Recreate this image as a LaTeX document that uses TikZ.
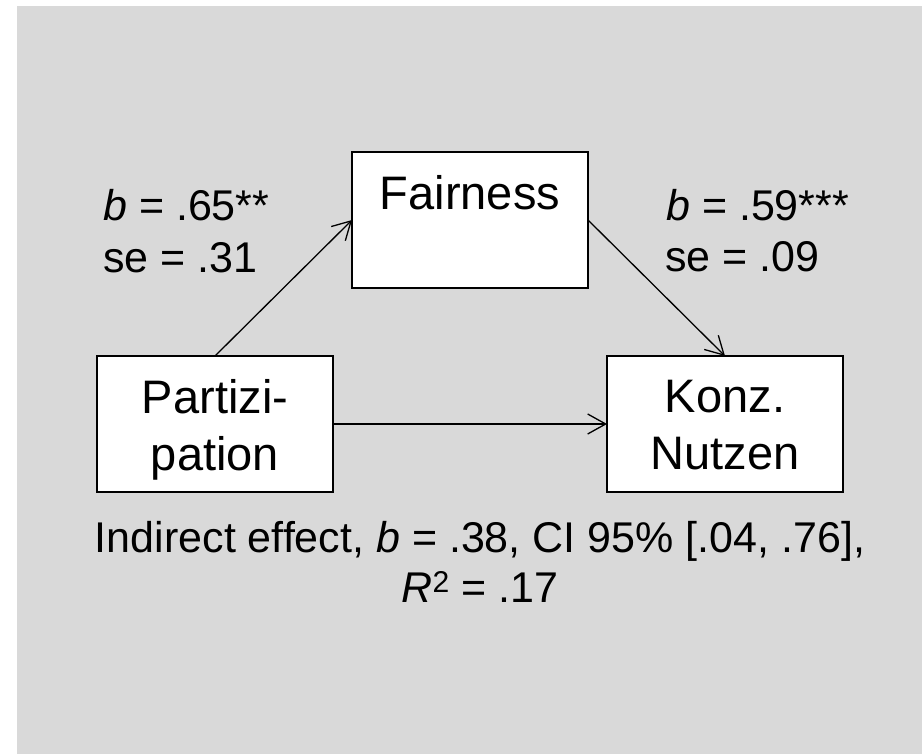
\documentclass[tikz,border=0pt]{standalone}
\usepackage{fontspec}
\setmainfont{Liberation Sans}[Ligatures=NoCommon]
\usetikzlibrary{arrows.meta}
\definecolor{bggray}{HTML}{D9D9D9}
\begin{document}
\begin{tikzpicture}[x=1pt,y=-1pt,
  box/.style={draw=black, line width=1.8pt, fill=white, minimum width=236pt, minimum height=136pt, inner sep=0pt, outer sep=0pt},
  boxtext/.style={inner sep=0pt, font=\fontsize{47}{57}\selectfont, anchor=base},
  lbl/.style={inner sep=0pt, font=\fontsize{43}{52}\selectfont, anchor=base west},
  note/.style={inner sep=0pt, font=\fontsize{43}{50}\selectfont, anchor=base},
  arr/.style={line width=1.3pt, -{Straight Barb[length=18pt,width=20pt]}}
]
\useasboundingbox (0,0) rectangle (923,754);
\fill[white] (0,0) rectangle (923,754);
\fill[bggray] (17,6) rectangle (922,754);

\node[box] (fair) at (470,220) {};
\node[box] (part) at (215,424) {};
\node[box] (konz) at (725,424) {};

\node[boxtext] (fairT) at (470,210) {Fairness};
\node[boxtext] (partA) at (215,413) {Partizi-};
\node[boxtext] (partB) at (215,470) {pation};
\node[boxtext] (konzA) at (725,412) {Konz.};
\node[boxtext] (konzB) at (725,469) {Nutzen};

\draw[arr] (part.north) -- (fair.west);
\draw[arr] (fair.east) -- (konz.north);
\draw[arr] (part.east) -- (konz.west);

\node[lbl] (la1) at (103,220) {\textit{b} = .65**};
\node[lbl] (la2) at (103,272) {se = .31};
\node[lbl] (lb1) at (666,220) {\textit{b} = .59***};
\node[lbl] (lb2) at (665,271) {se = .09};

\node[note] (n1) at (480,552) {Indirect effect, \textit{b} = .38, CI 95\% [.04, .76],};
\node[note] (n2) at (480,602) {\textit{R}\textsuperscript{2} = .17};
\end{tikzpicture}
\end{document}
